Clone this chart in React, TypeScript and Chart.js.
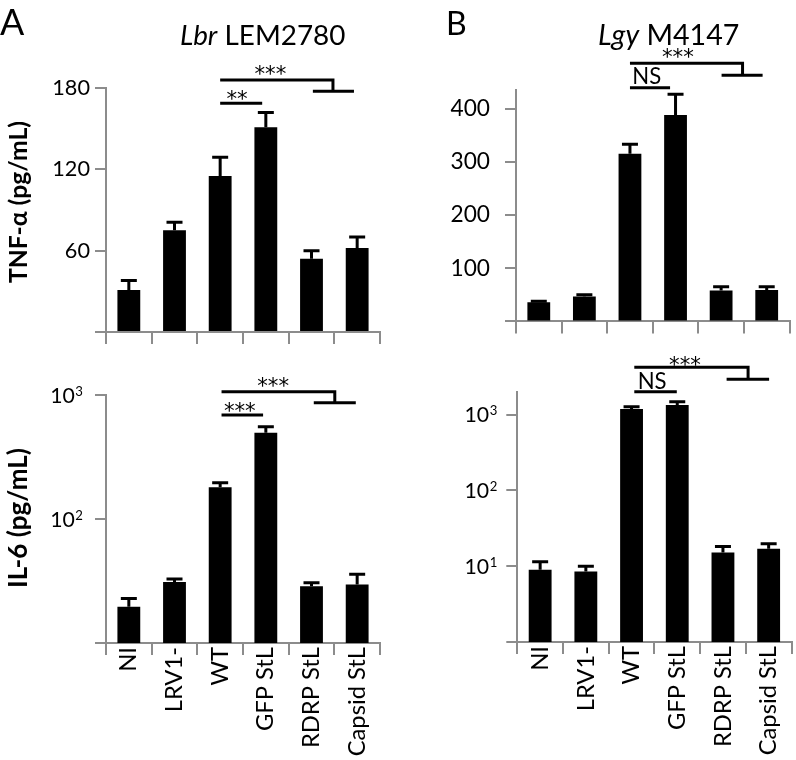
import React, { useEffect, useRef } from 'react';
import { Chart, registerables } from 'chart.js';

Chart.register(...registerables);

// ---------------- data ----------------
const categories = ['NI', 'LRV1-', 'WT', 'GFP StL', 'RDRP StL', 'Capsid StL'];

const lbrTnfValues = [31, 75, 115, 151, 54, 62];
const lbrTnfErrors = [7, 6, 14, 11, 6, 8];
const lbrTnfTicks = [0, 60, 120, 180];

const lbrIl6Values = [19.6, 31, 180, 497, 28.7, 29.7];
const lbrIl6Errors = [3.3, 1.8, 16, 58, 1.9, 6.1];
const lbrIl6Ticks = [10, 100, 1000];

const lgyTnfValues = [36, 47, 315, 388, 58, 59];
const lgyTnfErrors = [2, 3, 18, 39, 7, 6];
const lgyTnfTicks = [0, 100, 200, 300, 400];

const lgyIl6Values = [9.0, 8.5, 1181, 1334, 15.1, 17];
const lgyIl6Errors = [2.4, 1.5, 86, 139, 3.1, 2.8];
const lgyIl6Ticks = [1, 10, 100, 1000];

// ---------------- style ----------------
const FONT = 'Lato, "Open Sans", sans-serif';
const STAR_FONT = '"DejaVu Sans", sans-serif';
const GRAY = '#8c8c8c';
const HCOMP = 0.93; // horizontal text: slightly below width-fit

let measureCtx: CanvasRenderingContext2D | null = null;
function inkWidth(text: string, style: string, family: string) {
  if (!measureCtx) measureCtx = document.createElement('canvas').getContext('2d');
  const c = measureCtx as CanvasRenderingContext2D;
  c.font = `${style}100px ${family}`;
  const m = c.measureText(text);
  return m.actualBoundingBoxLeft + m.actualBoundingBoxRight;
}
function fit(text: string, style: string, target: number, family = FONT) {
  return (100 * target) / inkWidth(text, style, family);
}

type Txt = { parts: [string, string][]; x: number; y: number; target: number; rotate?: boolean; comp?: number };

type PanelCfg = {
  left: number; top: number; w: number; h: number;
  padLeft: number; padTop: number; padRight: number;
  yWidth: number; xHeight: number;
  type: 'linear' | 'logarithmic';
  min: number; max: number; ticks: number[];
  tickPad: number; tickFit: [string, number];
  values: number[]; errors: number[];
  showX: boolean;
  lines: number[][][];
  marks: [string, number, number][];
  texts: Txt[];
};

const panels: PanelCfg[] = [
  {
    left: 0, top: 0, w: 400, h: 350,
    padLeft: 0, padTop: 88, padRight: 20, yWidth: 106, xHeight: 16,
    type: 'linear', min: 0, max: 180, ticks: lbrTnfTicks,
    tickPad: 5, tickFit: ['120', 38],
    values: lbrTnfValues, errors: lbrTnfErrors, showX: false,
    lines: [
      [[2.0, -8], [4.47, -8], [4.47, 3.3]],
      [[4.03, 3.3], [4.93, 3.3]],
      [[2.0, 15.3], [2.92, 15.3]],
    ],
    marks: [['***', 3.1, -18], ['**', 2.37, 7]],
    texts: [
      { parts: [['A', '']], x: 0, y: 35, target: 27, comp: 0.9 },
      { parts: [['Lbr', 'italic '], [' LEM2780', '']], x: 180, y: 45, target: 178 },
      { parts: [['TNF-\u03B1 (pg/mL)', 'bold ']], x: 19, y: 202, target: 161, rotate: true },
    ],
  },
  {
    left: 0, top: 350, w: 400, h: 410,
    padLeft: 0, padTop: 45, padRight: 20, yWidth: 106, xHeight: 117,
    type: 'logarithmic', min: 10, max: 1000, ticks: lbrIl6Ticks,
    tickPad: 12, tickFit: ['10', 24],
    values: lbrIl6Values, errors: lbrIl6Errors, showX: true,
    lines: [
      [[2.03, -3.3], [4.51, -3.3], [4.51, 7.7]],
      [[4.05, 7.7], [4.97, 7.7]],
      [[2.03, 20], [2.94, 20]],
    ],
    marks: [['***', 3.16, -13.3], ['***', 2.43, 11.7]],
    texts: [
      { parts: [['IL-6 (pg/mL)', 'bold ']], x: 19, y: 168, target: 137, rotate: true },
    ],
  },
  {
    left: 400, top: 0, w: 396, h: 350,
    padLeft: 0, padTop: 90, padRight: 6.5, yWidth: 116, xHeight: 14,
    type: 'linear', min: 0, max: 435, ticks: lgyTnfTicks,
    tickPad: 15, tickFit: ['400', 41.5],
    values: lgyTnfValues, errors: lgyTnfErrors, showX: false,
    lines: [
      [[2.0, -26.7], [4.47, -26.7], [4.47, -14.7]],
      [[4.01, -14.7], [4.91, -14.7]],
      [[2.0, -2.3], [2.88, -2.3]],
    ],
    marks: [['***', 3.05, -37], ['NS', 2.37, -14.5]],
    texts: [
      { parts: [['B', '']], x: 46, y: 35, target: 23, comp: 0.9 },
      { parts: [['Lgy', 'italic '], [' M4147', '']], x: 198, y: 45, target: 152 },
    ],
  },
  {
    left: 400, top: 350, w: 396, h: 410,
    padLeft: 0, padTop: 41.7, padRight: 4.5, yWidth: 117.3, xHeight: 118,
    type: 'logarithmic', min: 1, max: 2000, ticks: lgyIl6Ticks,
    tickPad: 9, tickFit: ['10', 24],
    values: lgyIl6Values, errors: lgyIl6Errors, showX: true,
    lines: [
      [[2.06, -24.4], [4.55, -24.4], [4.55, -12.4]],
      [[4.08, -12.4], [5.01, -12.4]],
      [[2.06, 0], [2.99, 0]],
    ],
    marks: [['***', 3.17, -31], ['NS', 2.45, -11.7]],
    texts: [],
  },
];

function makePlugins(cfg: PanelCfg, tickSize: number) {
  const errorBars = {
    id: 'errorBars',
    afterDatasetsDraw(chart: any) {
      const ctx = chart.ctx;
      const ys = chart.scales.y;
      const meta = chart.getDatasetMeta(0);
      ctx.save();
      ctx.strokeStyle = '#000';
      ctx.lineWidth = 3;
      meta.data.forEach((bar: any, i: number) => {
        const top = ys.getPixelForValue(cfg.values[i] + cfg.errors[i]);
        ctx.beginPath();
        ctx.moveTo(bar.x, bar.y);
        ctx.lineTo(bar.x, top);
        ctx.moveTo(bar.x - 8, top);
        ctx.lineTo(bar.x + 8, top);
        ctx.stroke();
      });
      ctx.restore();
    },
  };
  const annotations = {
    id: 'annotations',
    afterDraw(chart: any) {
      const ctx = chart.ctx;
      const xs = chart.scales.x;
      const ys = chart.scales.y;
      const top = chart.chartArea.top;
      const p0 = xs.getPixelForValue(0);
      const step = xs.getPixelForValue(1) - p0;
      const X = (i: number) => p0 + i * step;
      ctx.save();
      ctx.fillStyle = '#000';
      // log-axis labels with superscript exponents
      if (cfg.type === 'logarithmic') {
        const right = chart.chartArea.left - 11 - cfg.tickPad;
        const S = tickSize;
        const s = S * 0.62;
        cfg.ticks.forEach((v) => {
          if (v <= cfg.min) return;
          const y = ys.getPixelForValue(v);
          const exp = String(Math.round(Math.log10(v)));
          ctx.textBaseline = 'alphabetic';
          ctx.textAlign = 'right';
          ctx.font = `${s}px ${FONT}`;
          const ew = ctx.measureText(exp).width;
          const capTop = y - 0.36 * S;
          ctx.fillText(exp, right, capTop + 0.72 * s - 1);
          ctx.font = `${S}px ${FONT}`;
          ctx.fillText('10', right - ew - 0.5, y + 0.36 * S);
        });
      }
      ctx.strokeStyle = '#000';
      ctx.lineWidth = 3;
      ctx.lineJoin = 'miter';
      cfg.lines.forEach((pl) => {
        ctx.beginPath();
        pl.forEach(([x, y], k) => (k === 0 ? ctx.moveTo(X(x), top + y) : ctx.lineTo(X(x), top + y)));
        ctx.stroke();
      });
      ctx.textAlign = 'center';
      ctx.textBaseline = 'alphabetic';
      cfg.marks.forEach(([t, x, y]) => {
        const star = t.startsWith('*');
        const size = star ? fit('***', '', 31, STAR_FONT) : fit('NS', '', 26);
        ctx.font = star ? `${size}px ${STAR_FONT}` : `${size}px ${FONT}`;
        const m = ctx.measureText(t);
        const base = y + (m.actualBoundingBoxAscent - m.actualBoundingBoxDescent) / 2;
        ctx.fillText(t, X(x), top + base);
      });
      cfg.texts.forEach((t) => {
        ctx.save();
        if (t.rotate) {
          const size = fit(t.parts[0][0], t.parts[0][1], t.target);
          ctx.translate(t.x, t.y);
          ctx.rotate(-Math.PI / 2);
          ctx.font = `${t.parts[0][1]}${size}px ${FONT}`;
          ctx.textAlign = 'center';
          ctx.textBaseline = 'middle';
          ctx.fillText(t.parts[0][0], 0, 0);
        } else {
          // size from total advance width of all parts
          ctx.textAlign = 'left';
          let total = 0;
          t.parts.forEach(([str, style]) => {
            ctx.font = `${style}100px ${FONT}`;
            total += ctx.measureText(str).width;
          });
          const size = ((100 * t.target) / total) * (t.comp ?? HCOMP);
          let x = t.x;
          t.parts.forEach(([str, style]) => {
            ctx.font = `${style}${size}px ${FONT}`;
            ctx.fillText(str, x, t.y);
            x += ctx.measureText(str).width;
          });
        }
        ctx.restore();
      });
      ctx.restore();
    },
  };
  return [errorBars, annotations];
}

function Panel({ cfg }: { cfg: PanelCfg }) {
  const ref = useRef<HTMLCanvasElement>(null);
  useEffect(() => {
    const tickSize = fit(cfg.tickFit[0], '', cfg.tickFit[1]) * HCOMP;
    const catSize = fit('Capsid StL', '', 108);
    const chart = new Chart(ref.current as HTMLCanvasElement, {
      type: 'bar',
      data: {
        labels: categories,
        datasets: [
          {
            data: cfg.values,
            backgroundColor: '#000',
            borderWidth: 0,
            categoryPercentage: 0.5,
            barPercentage: 1,
          },
        ],
      },
      options: {
        animation: false,
        responsive: false,
        events: [],
        layout: { padding: { left: cfg.padLeft, top: cfg.padTop, right: cfg.padRight, bottom: 0 } },
        plugins: { legend: { display: false }, tooltip: { enabled: false } },
        scales: {
          x: {
            type: 'category',
            offset: true,
            grid: { offset: true, drawOnChartArea: false, drawTicks: true, tickLength: 12, color: GRAY, lineWidth: 2 },
            border: { display: true, color: GRAY, width: 2 },
            ticks: {
              display: cfg.showX,
              autoSkip: false,
              minRotation: 90,
              maxRotation: 90,
              padding: -8,
              color: '#000',
              font: { family: FONT, size: catSize },
            },
            afterFit: (s: any) => { s.height = cfg.xHeight; },
          },
          y: {
            type: cfg.type,
            min: cfg.min,
            max: cfg.max,
            grid: { drawOnChartArea: false, drawTicks: true, tickLength: 11, color: GRAY, lineWidth: 2 },
            border: { display: true, color: GRAY, width: 2 },
            ticks: {
              padding: cfg.tickPad,
              color: '#000',
              font: { family: FONT, size: tickSize },
              callback: (v: any) =>
                cfg.type === 'logarithmic' || Number(v) === 0 ? '' : String(v),
            },
            afterBuildTicks: (s: any) => { s.ticks = cfg.ticks.map((v) => ({ value: v })); },
            afterFit: (s: any) => { s.width = cfg.yWidth; },
          },
        },
      } as any,
      plugins: makePlugins(cfg, tickSize) as any,
    });
    return () => chart.destroy();
  }, [cfg]);
  return (
    <canvas
      ref={ref}
      width={cfg.w}
      height={cfg.h}
      style={{ position: 'absolute', left: cfg.left, top: cfg.top, width: cfg.w, height: cfg.h }}
    />
  );
}

export default function App() {
  return (
    <div style={{ position: 'absolute', left: 0, top: 0, width: 796, height: 760, background: '#fff' }}>
      {panels.map((p, i) => (
        <Panel key={i} cfg={p} />
      ))}
    </div>
  );
}
